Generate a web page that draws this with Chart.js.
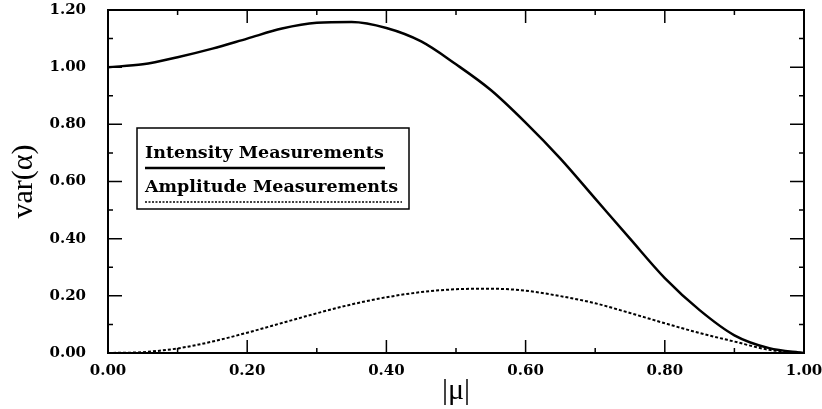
<!DOCTYPE html>
<html>
<head>
<meta charset="utf-8">
<script src="https://cdn.jsdelivr.net/npm/chart.js@4.4.0/dist/chart.umd.min.js"></script>
<style>
  html, body { margin: 0; padding: 0; background: #fff; }
  #wrap { width: 822px; height: 409px; }
</style>
</head>
<body>
<div id="wrap"><canvas id="varChart" width="822" height="409"></canvas></div>
<script>
// |mu| sample positions and the two variance curves
const muValues = [0, 0.05, 0.10, 0.15, 0.20, 0.25, 0.30, 0.35, 0.40, 0.45, 0.50,
                  0.55, 0.60, 0.65, 0.70, 0.75, 0.80, 0.85, 0.90, 0.95, 1.00];
const intensityVar = [1.00, 1.01, 1.035, 1.065, 1.10, 1.135, 1.155, 1.158, 1.137, 1.09, 1.01,
                      0.92, 0.806, 0.68, 0.54, 0.40, 0.262, 0.15, 0.062, 0.017, 0.0];
const amplitudeVar = [0.0, 0.003, 0.016, 0.04, 0.071, 0.105, 0.139, 0.17, 0.195, 0.213, 0.223,
                      0.225, 0.218, 0.199, 0.174, 0.14, 0.104, 0.07, 0.04, 0.011, 0.0];
const xTicks = [0, 0.2, 0.4, 0.6, 0.8, 1.0];
const yTicks = [0, 0.2, 0.4, 0.6, 0.8, 1.0, 1.2];
const legendLabels = ['Intensity Measurements', 'Amplitude Measurements'];

const toPoints = vals => vals.map((v, i) => ({ x: muValues[i], y: v }));

// full frame with inward major/minor ticks on all four sides
const frameTicks = {
  id: 'frameTicks',
  afterDraw(chart) {
    const { ctx, chartArea: a, scales: { x, y } } = chart;
    ctx.save();
    ctx.strokeStyle = '#000';
    ctx.lineWidth = 2;
    ctx.strokeRect(a.left, a.top, a.right - a.left, a.bottom - a.top);
    ctx.lineWidth = 1.5;
    for (let i = 1; i < 10; i++) {
      const px = x.getPixelForValue(i / 10);
      const len = i % 2 === 0 ? 13 : 5;
      ctx.beginPath();
      ctx.moveTo(px, a.bottom); ctx.lineTo(px, a.bottom - len);
      ctx.moveTo(px, a.top); ctx.lineTo(px, a.top + len);
      ctx.stroke();
    }
    for (let i = 1; i < 12; i++) {
      const py = y.getPixelForValue(i / 10);
      const len = i % 2 === 0 ? 14 : 5;
      ctx.beginPath();
      ctx.moveTo(a.left, py); ctx.lineTo(a.left + len, py);
      ctx.moveTo(a.right, py); ctx.lineTo(a.right - len, py);
      ctx.stroke();
    }
    ctx.restore();
  }
};

// boxed legend with the line sample drawn under each label
const boxLegend = {
  id: 'boxLegend',
  afterDatasetsDraw(chart) {
    const { ctx, chartArea: a } = chart;
    const bx = a.left + 29, by = a.top + 118, bw = 272, bh = 81;
    ctx.save();
    ctx.fillStyle = '#fff';
    ctx.fillRect(bx, by, bw, bh);
    ctx.strokeStyle = '#000';
    ctx.lineWidth = 1.5;
    ctx.strokeRect(bx, by, bw, bh);
    ctx.fillStyle = '#000';
    ctx.font = 'bold 17.5px "DejaVu Serif", serif';
    ctx.textBaseline = 'alphabetic';
    ctx.fillText(legendLabels[0], bx + 8, by + 30, 240);
    ctx.fillText(legendLabels[1], bx + 8, by + 64, 258);
    ctx.lineWidth = 2.5;
    ctx.beginPath();
    ctx.moveTo(bx + 8, by + 40); ctx.lineTo(bx + 248, by + 40);
    ctx.stroke();
    ctx.lineWidth = 1.5;
    ctx.setLineDash([2, 1.5]);
    ctx.beginPath();
    ctx.moveTo(bx + 8, by + 74); ctx.lineTo(bx + 265, by + 74);
    ctx.stroke();
    ctx.restore();
  }
};

const tickFont = { family: '"DejaVu Serif", serif', size: 15, weight: 'bold' };

// drop the label overflow padding so the plot frame lands where the figure has it
const noOverflow = s => { s.paddingTop = 0; s.paddingBottom = 0; s.paddingLeft = 0; s.paddingRight = 0; };

new Chart(document.getElementById('varChart'), {
  type: 'line',
  data: {
    datasets: [{
      label: legendLabels[0],
      data: toPoints(intensityVar),
      borderColor: '#000',
      borderWidth: 2.5,
      pointRadius: 0,
      cubicInterpolationMode: 'monotone',
      fill: false
    }, {
      label: legendLabels[1],
      data: toPoints(amplitudeVar),
      borderColor: '#000',
      borderWidth: 2,
      borderDash: [3, 2],
      pointRadius: 0,
      cubicInterpolationMode: 'monotone',
      fill: false
    }]
  },
  options: {
    responsive: false,
    animation: false,
    layout: { padding: { top: 10, right: 18, bottom: 0, left: 0 } },
    plugins: { legend: { display: false }, tooltip: { enabled: false } },
    scales: {
      x: {
        type: 'linear',
        min: 0, max: 1,
        afterFit: s => { s.height = 56; noOverflow(s); },
        afterBuildTicks: s => { s.ticks = xTicks.map(v => ({ value: v })); },
        ticks: { color: '#000', font: tickFont, padding: 1, maxRotation: 0,
                 callback: v => v.toFixed(2) },
        grid: { display: false },
        border: { display: false },
        title: { display: true, text: '|\u03bc|', color: '#000', padding: 0,
                 font: { family: '"Liberation Serif", serif', size: 30 } }
      },
      y: {
        min: 0, max: 1.2,
        afterFit: s => { s.width = 108; noOverflow(s); },
        afterBuildTicks: s => { s.ticks = yTicks.map(v => ({ value: v })); },
        ticks: { color: '#000', font: tickFont, padding: 14,
                 callback: v => v.toFixed(2) },
        grid: { display: false },
        border: { display: false },
        title: { display: true, text: 'var(\u03b1)', color: '#000', padding: { top: 6, bottom: 0 },
                 font: { family: '"Liberation Serif", serif', size: 30 } }
      }
    }
  },
  plugins: [frameTicks, boxLegend]
});
</script>
</body>
</html>
